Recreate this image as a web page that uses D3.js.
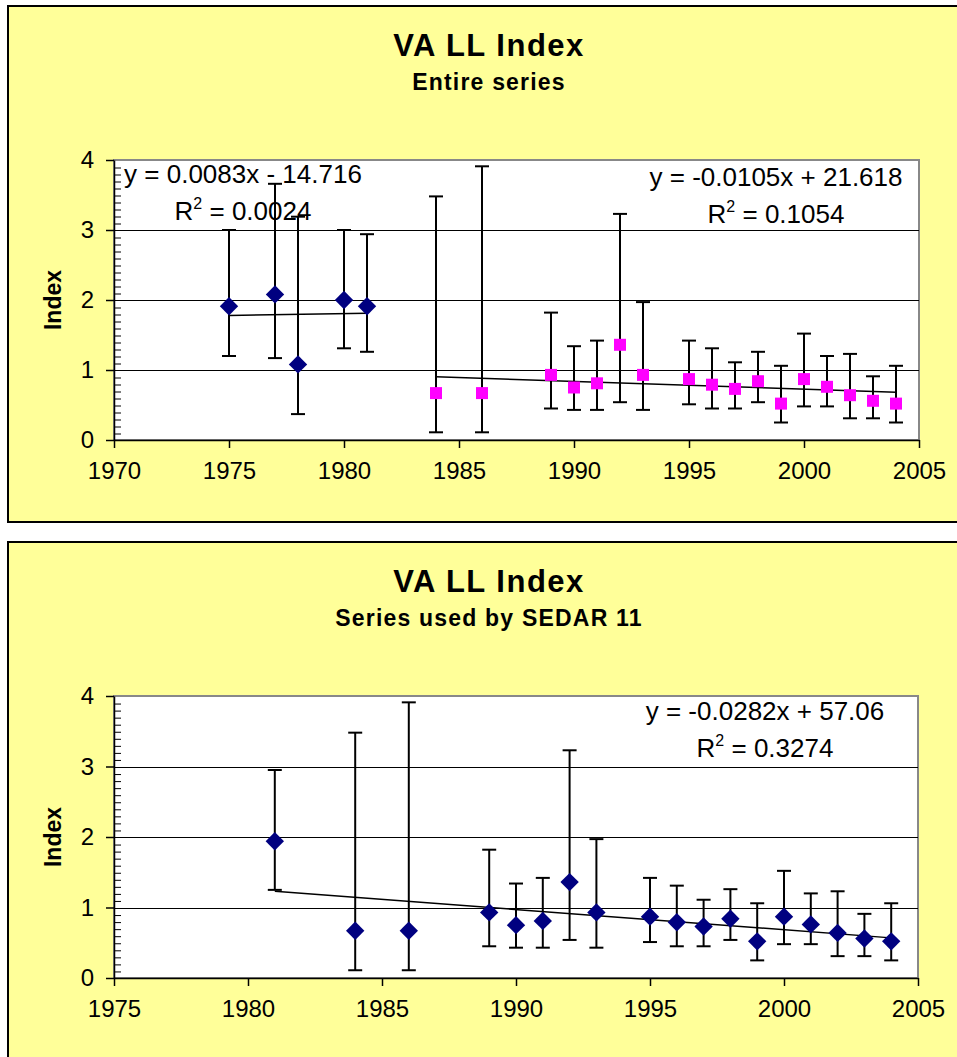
<!DOCTYPE html>
<html>
<head>
<meta charset="utf-8">
<script src="https://cdn.jsdelivr.net/npm/d3@7"></script>
<style>
  body { margin: 0; background: #fff; }
  svg { display: block; font-family: "Liberation Sans", Arial, sans-serif; }
</style>
</head>
<body>
<div id="chart"></div>
<script>
// VA LL index - early series (diamonds)
const yearsEarly = [1975, 1977, 1978, 1980, 1981];
const indexEarly = [1.91, 2.08, 1.08, 2.00, 1.91];
const upperEarly = [3.00, 3.66, 3.19, 3.00, 2.94];
const lowerEarly = [1.20, 1.17, 0.37, 1.31, 1.26];

// VA LL index - later series (squares)
const yearsLate = [1984, 1986, 1989, 1990, 1991, 1992, 1993, 1995, 1996, 1997, 1998, 1999, 2000, 2001, 2002, 2003, 2004];
const indexLate = [0.67, 0.67, 0.93, 0.75, 0.81, 1.36, 0.93, 0.87, 0.79, 0.73, 0.84, 0.52, 0.87, 0.76, 0.64, 0.56, 0.52];
const upperLate = [3.48, 3.91, 1.82, 1.34, 1.42, 3.23, 1.97, 1.42, 1.31, 1.11, 1.26, 1.06, 1.52, 1.20, 1.23, 0.91, 1.06];
const lowerLate = [0.11, 0.11, 0.45, 0.43, 0.43, 0.54, 0.43, 0.51, 0.45, 0.45, 0.54, 0.25, 0.48, 0.48, 0.31, 0.31, 0.25];

// series used by SEDAR 11 = 1981 + later series
const yearsSedar = [1981].concat(yearsLate);
const indexSedar = [1.94].concat(indexLate);
const upperSedar = [2.95].concat(upperLate);
const lowerSedar = [1.25].concat(lowerLate);

const yTicks = [0, 1, 2, 3, 4];
const xTicksTop = [1970, 1975, 1980, 1985, 1990, 1995, 2000, 2005];
const xTicksBottom = [1975, 1980, 1985, 1990, 1995, 2000, 2005];

const eqEarly = ["y = 0.0083x - 14.716", "0.0024"];
const eqLate = ["y = -0.0105x + 21.618", "0.1054"];
const eqSedar = ["y = -0.0282x + 57.06", "0.3274"];

const W = 957, H = 1057;
const svg = d3.select("#chart").append("svg").attr("width", W).attr("height", H);

function rows(years, vals, up, lo) {
  return years.map((y, i) => ({ x: y, v: vals[i], hi: up[i], lo: lo[i] }));
}

// simple least squares fit
function fit(d) {
  const mx = d3.mean(d, p => p.x), my = d3.mean(d, p => p.v);
  const b = d3.sum(d, p => (p.x - mx) * (p.v - my)) / d3.sum(d, p => (p.x - mx) ** 2);
  return x => my + b * (x - mx);
}

function drawChart(o) {
  const g = svg.append("g");

  // chart area
  g.append("rect").attr("x", 8).attr("y", o.boxTop).attr("width", 980).attr("height", o.boxH)
    .attr("fill", "#ffff99").attr("stroke", "#000").attr("stroke-width", 2);

  g.append("text").attr("x", 489).attr("y", o.boxTop + 50).attr("text-anchor", "middle")
    .attr("font-size", 31).attr("font-weight", "bold").attr("letter-spacing", 1.5).text(o.title);
  g.append("text").attr("x", 489).attr("y", o.boxTop + 84).attr("text-anchor", "middle")
    .attr("font-size", 23).attr("font-weight", "bold").attr("letter-spacing", 1.2).text(o.subtitle);

  const x = d3.scaleLinear().domain(o.xDomain).range([114, o.right]);
  const y = d3.scaleLinear().domain([0, 4]).range([o.bottom, o.top]);

  // plot area
  g.append("rect").attr("x", x.range()[0]).attr("y", o.top)
    .attr("width", x.range()[1] - x.range()[0]).attr("height", o.bottom - o.top)
    .attr("fill", "#fff").attr("stroke", "#888").attr("stroke-width", 2);

  // gridlines, snapped to whole pixels
  g.append("g").selectAll("line").data(yTicks.slice(1, 4)).join("line")
    .attr("x1", x.range()[0]).attr("x2", x.range()[1])
    .attr("y1", d => Math.round(y(d)) + 0.5).attr("y2", d => Math.round(y(d)) + 0.5)
    .attr("stroke", "#000").attr("stroke-width", 1);

  // minor ticks inside
  const minor = d3.range(0, 40).map(i => i / 10).filter(v => Math.round(v * 10) % 10 !== 0);
  g.append("g").attr("transform", `translate(${x.range()[0]},0.5)`)
    .call(d3.axisRight(y).tickValues(minor).tickSize(7).tickFormat(""))
    .call(a => a.select(".domain").remove())
    .call(a => a.selectAll("line").attr("stroke", "#000"));

  const yAxis = g.append("g").attr("transform", `translate(${x.range()[0]},0)`)
    .call(d3.axisLeft(y).tickValues(yTicks).tickFormat(d3.format("d")).tickSize(8).tickSizeOuter(0).tickPadding(12));
  yAxis.selectAll("text").attr("font-size", 24).attr("fill", "#000").attr("font-family", "Liberation Sans, Arial");
  yAxis.selectAll("line, path").attr("stroke", "#000").attr("stroke-width", 1.5);

  const xAxis = g.append("g").attr("transform", `translate(0,${o.bottom})`)
    .call(d3.axisBottom(x).tickValues(o.xTicks).tickFormat(d3.format("d")).tickSize(8).tickSizeOuter(0).tickPadding(14));
  xAxis.selectAll("text").attr("font-size", 24).attr("fill", "#000").attr("font-family", "Liberation Sans, Arial");
  xAxis.selectAll("line, path").attr("stroke", "#000").attr("stroke-width", 1.5);

  g.append("text").attr("transform", `translate(61,${(o.top + o.bottom) / 2}) rotate(-90)`)
    .attr("text-anchor", "middle").attr("font-size", 23).attr("font-weight", "bold").text("Index");

  o.series.forEach(s => {
    const d = s.data;
    // error bars
    const eb = g.append("g").attr("stroke", "#000").attr("stroke-width", 2);
    eb.selectAll(".v").data(d).join("line")
      .attr("x1", p => x(p.x)).attr("x2", p => x(p.x))
      .attr("y1", p => y(p.hi)).attr("y2", p => y(p.lo));
    eb.selectAll(".t").data(d).join("line")
      .attr("x1", p => x(p.x) - 7).attr("x2", p => x(p.x) + 7)
      .attr("y1", p => y(p.hi)).attr("y2", p => y(p.hi));
    eb.selectAll(".b").data(d).join("line")
      .attr("x1", p => x(p.x) - 7).attr("x2", p => x(p.x) + 7)
      .attr("y1", p => y(p.lo)).attr("y2", p => y(p.lo));
  });

  o.series.forEach(s => {
    const d = s.data;
    const f = fit(d);
    const ext = d3.extent(d, p => p.x);
    g.append("line")
      .attr("x1", x(ext[0])).attr("y1", y(f(ext[0])))
      .attr("x2", x(ext[1])).attr("y2", y(f(ext[1])))
      .attr("stroke", "#000").attr("stroke-width", 1.5);

    const sym = d3.symbol().type(s.shape === "square" ? d3.symbolSquare : d3.symbolDiamond2).size(s.shape === "square" ? 144 : 215);
    g.append("g").selectAll("path").data(d).join("path")
      .attr("transform", p => `translate(${x(p.x)},${y(p.v)})`)
      .attr("d", sym).attr("fill", s.color);

    // trend equation
    const t = g.append("g").attr("font-size", 26).attr("text-anchor", "middle");
    t.append("text").attr("x", s.eqX).attr("y", s.eqY).text(s.eq[0]);
    const r = t.append("text").attr("x", s.eqX).attr("y", s.eqY + 37);
    r.append("tspan").text("R");
    r.append("tspan").attr("font-size", 16).attr("dy", -11).text("2");
    r.append("tspan").attr("dy", 11).text(" = " + s.eq[1]);
  });
}

drawChart({
  boxTop: 6, boxH: 516, top: 160, bottom: 440, right: 919,
  xDomain: [1970, 2005], xTicks: xTicksTop,
  title: "VA LL Index", subtitle: "Entire series",
  series: [
    { data: rows(yearsEarly, indexEarly, upperEarly, lowerEarly), shape: "diamond", color: "#000080", eq: eqEarly, eqX: 243, eqY: 183 },
    { data: rows(yearsLate, indexLate, upperLate, lowerLate), shape: "square", color: "#ff00ff", eq: eqLate, eqX: 776, eqY: 186 }
  ]
});

drawChart({
  boxTop: 542, boxH: 540, top: 696, bottom: 978, right: 918,
  xDomain: [1975, 2005], xTicks: xTicksBottom,
  title: "VA LL Index", subtitle: "Series used by SEDAR 11",
  series: [
    { data: rows(yearsSedar, indexSedar, upperSedar, lowerSedar), shape: "diamond", color: "#000080", eq: eqSedar, eqX: 765, eqY: 720 }
  ]
});
</script>
</body>
</html>
